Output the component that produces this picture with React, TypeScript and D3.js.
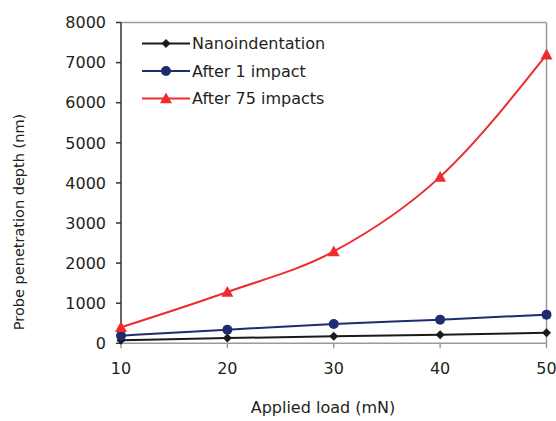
import React from "react";
import * as d3 from "d3";

const loads = [10, 20, 30, 40, 50];
const nanoindentation = [75, 130, 175, 215, 260];
const after1 = [190, 340, 480, 590, 715];
const after75 = [400, 1280, 2290, 4150, 7200];
const yTicks = [0, 1000, 2000, 3000, 4000, 5000, 6000, 7000, 8000];
const xTicks = [10, 20, 30, 40, 50];
const seriesNames = ["Nanoindentation", "After 1 impact", "After 75 impacts"];
const seriesColors = ["#1a1a1a", "#1f2d6e", "#ee2b2e"];

const W = 556, H = 421;
const left = 121, right = 546.5, top = 22.5, bottom = 343.3;
const font = "DejaVu Sans, sans-serif";

export default function App() {
  const x = d3.scaleLinear().domain([10, 50]).range([left, right]);
  const y = d3.scaleLinear().domain([0, 8000]).range([bottom, top]);
  const line = d3
    .line<number>()
    .x((_, i) => x(loads[i]))
    .y((d) => y(d))
    .curve(d3.curveMonotoneX);
  const data = [nanoindentation, after1, after75];

  const marker = (k: number, cx: number, cy: number, key: string) => {
    const c = seriesColors[k];
    if (k === 0) {
      const r = 4.5;
      return (
        <path key={key} d={`M${cx},${cy - r}L${cx + r},${cy}L${cx},${cy + r}L${cx - r},${cy}Z`} fill={c} />
      );
    }
    if (k === 1) return <circle key={key} cx={cx} cy={cy} r={5} fill={c} />;
    const s = 6;
    return (
      <path
        key={key}
        d={`M${cx},${cy - s}L${cx + s},${cy + s * 0.8}L${cx - s},${cy + s * 0.8}Z`}
        fill={c}
      />
    );
  };

  return (
    <svg
      width={W}
      height={H}
      style={{ position: "absolute", left: 0, top: 0, background: "#fff" }}
      fontFamily={font}
    >
      {/* frame */}
      <line x1={left} x2={right} y1={top} y2={top} stroke="#9a9a9a" strokeWidth={1.5} />
      <line x1={right} x2={right} y1={top} y2={bottom} stroke="#9a9a9a" strokeWidth={1.5} />
      <line x1={left} x2={right} y1={bottom} y2={bottom} stroke="#9a9a9a" strokeWidth={1.5} />
      {xTicks.map((t) => (
        <g key={"xt" + t}>
          <line x1={x(t)} x2={x(t)} y1={bottom} y2={bottom + 5} stroke="#9a9a9a" strokeWidth={1.5} />
          <text x={x(t)} y={374} textAnchor="middle" fontSize={16} fill="#231f20">
            {t}
          </text>
        </g>
      ))}
      {yTicks.map((t) => (
        <g key={"yt" + t}>
          <line x1={left - 5} x2={left} y1={y(t)} y2={y(t)} stroke="#333" strokeWidth={1.5} />
          <text x={106} y={y(t)} dy="0.36em" textAnchor="end" fontSize={16} fill="#231f20">
            {t}
          </text>
        </g>
      ))}
      <line x1={left} x2={left} y1={top} y2={bottom} stroke="#333" strokeWidth={1.5} />

      {/* series */}
      {data.map((vals, k) => (
        <g key={"s" + k}>
          <path d={line(vals) || ""} fill="none" stroke={seriesColors[k]} strokeWidth={2} />
          {vals.map((v, i) => marker(k, x(loads[i]), y(v), `m${k}-${i}`))}
        </g>
      ))}

      {/* legend */}
      {seriesNames.map((n, k) => {
        const ly = 43.5 + k * 27.5;
        return (
          <g key={"l" + k}>
            <line x1={142} x2={190} y1={ly} y2={ly} stroke={seriesColors[k]} strokeWidth={2} />
            {marker(k, 166, ly, "lm" + k)}
            <text x={192} y={ly} dy="0.36em" fontSize={16} fill="#231f20">
              {n}
            </text>
          </g>
        );
      })}

      {/* axis titles */}
      <text x={323} y={413} textAnchor="middle" fontSize={16} fill="#231f20">
        Applied load (mN)
      </text>
      <text
        transform={`translate(24,222) rotate(-90)`}
        textAnchor="middle"
        fontSize={14.5}
        fill="#231f20"
      >
        Probe penetration depth (nm)
      </text>
    </svg>
  );
}
